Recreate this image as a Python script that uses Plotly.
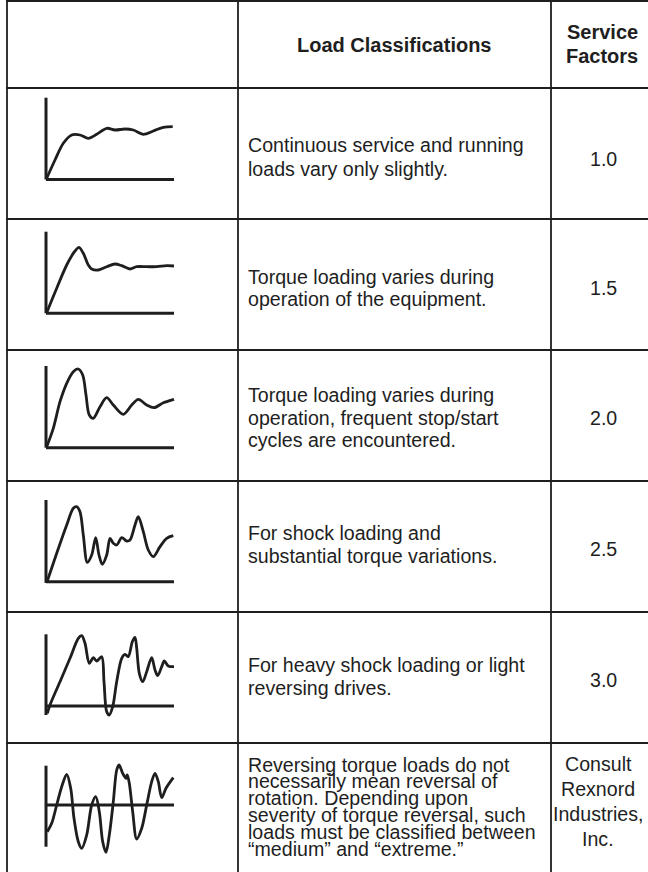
import plotly.graph_objects as go

W, H = 648, 872

# ---------------- data ----------------
header_classification = "Load Classifications"
header_factor = ["Service", "Factors"]

classifications = [
    ["Continuous service and running", "loads vary only slightly."],
    ["Torque loading varies during", "operation of the equipment."],
    ["Torque loading varies during", "operation, frequent stop/start", "cycles are encountered."],
    ["For shock loading and", "substantial torque variations."],
    ["For heavy shock loading or light", "reversing drives."],
    ["Reversing torque loads do not", "necessarily mean reversal of",
     "rotation. Depending upon", "severity of torque reversal, such",
     "loads must be classified between", "\u201cmedium\u201d and \u201cextreme.\u201d"],
]

service_factors = [["1.0"], ["1.5"], ["2.0"], ["2.5"], ["3.0"],
                   ["Consult", "Rexnord", "Industries,", "Inc."]]

# load sketches: time (t) vs load
t1 = [0.7, 9, 17.3, 25.7, 34, 42.3, 50.7, 60.7, 69, 79, 87.3, 97.3, 107.3, 117.3, 126.7]
load1 = [1.2, 19.5, 36.2, 44.5, 44.5, 41.2, 45.2, 51.2, 49.5, 50.5, 49.5, 45.2, 48.5, 52.2, 52.8]

t2 = [0.7, 10.7, 20.7, 29, 33, 37.3, 42.3, 45.7, 52.3, 60.7, 69, 75.7, 84, 90.7, 100.7, 110.7, 120.7, 128]
load2 = [0.6, 25, 48.3, 62.3, 66, 60, 48.3, 44.3, 43.3, 46.6, 49.3, 47.6, 44.3, 46.6, 46.6, 46.6, 47.6, 47.3]

t3 = [0.7, 7.3, 14, 20.7, 27.3, 32.3, 36.7, 40, 43.3, 47.3, 54, 60.7, 67.3, 77.3, 85.7, 92.3, 100.7, 108, 117.3, 128]
load3 = [1, 19.4, 46, 64.4, 76, 78.7, 72.7, 52.7, 32.7, 29.4, 41, 50, 42.7, 33.4, 42.7, 48.4, 42.7, 40, 45, 48.4]

t4 = [1.3, 10.7, 20.7, 27.3, 30.7, 34, 37.3, 41.3, 45.7, 49.7, 53, 56.3, 60.7, 64, 67.3, 70.7,
      75.7, 80.7, 84, 89, 92.3, 97.3, 102.3, 107.3, 114, 120.7, 127.3]
load4 = [0.7, 28.4, 56.7, 73.4, 75, 70, 46.7, 19.4, 26.7, 44, 26.7, 17.4, 26.7, 43.4, 38.4, 36.7,
         44, 40.7, 41.7, 56.7, 65, 50, 31.7, 25, 35, 43.4, 46]

t5 = [1.3, 4, 14, 24, 32.3, 35.7, 39, 43.3, 47.3, 50.7, 55.7, 58, 60.7, 63.3, 66.7, 70.7, 75.7,
      79, 82.3, 86.3, 89, 90.7, 93.3, 96.7, 100.7, 105.7, 109, 111.7, 115.7, 118.3, 122.3, 128]
load5 = [-7.3, 1, 24.3, 47.7, 67.7, 70.3, 62.7, 42.7, 48.3, 45, 49.3, 24.3, -5.7, -9, -0.7, 24.3, 47.7,
         51.7, 49.3, 64.3, 68.7, 57.7, 32.7, 24.3, 34.3, 48.3, 36, 30.3, 39.3, 45, 40, 39.3]

t6 = [1.3, 5.7, 10.7, 15.7, 20.7, 24.7, 28, 32.3, 35.7, 40.7, 45.7, 49.7, 53.3, 56.7, 60, 63.3,
      67.3, 70.7, 73, 76.7, 80, 81.3, 83.3, 86.7, 90.7, 95.7, 100.7, 105.7, 109, 112.3, 115.7, 120, 127.3]
load6 = [-26.7, -18.3, 0, 18.3, 30.7, 16.7, -13.3, -36.7, -43.3, -30, 0, 8.3, -6.7, -36.7, -47.3, -30,
         3.3, 35, 40, 31.7, 26.7, 30, 21.7, -6.7, -34, -23.3, 0, 23.3, 31.7, 23.3, 7.3, 16.7, 27.3]

curves_t = [t1, t2, t3, t4, t5, t6]
curves_load = [load1, load2, load3, load4, load5, load6]

# ---------------- layout geometry (pixels) ----------------
row_lines_y = [1, 88, 219, 350, 481, 612, 743]
col_lines_x = [7, 238, 551]
row_tops = row_lines_y[1:]
sketch_origin_y = [179.5, 313.3, 447.7, 581.7, 706, 805]
sketch_axis_top = [81.8, 81.6, 81.7, 81.7, 71.7, 39.3]
sketch_axis_bottom = [0, 0, 0, -1.2, -9, -41.7]
sketch_axis_len = 128
origin_x = 46

text_x = 246
text_centers = [
    [143.5, 166.5],
    [274.5, 297.5],
    [392.5, 415.5, 438.5],
    [531, 554],
    [663, 686],
    [762.5, 779.3, 796.1, 812.9, 829.7, 846.5],
]
factor_x = [603, 603, 603, 603, 603, 598]
factor_centers = [[157], [286], [416], [547], [678], [762, 787, 812, 837]]

INK = "#1e1e1e"
FONT = "Liberation Sans, Arial, Helvetica, sans-serif"


def px(x):
    return x / W


def py(y):
    return 1 - y / H


fig = go.Figure()
shapes = []
annotations = []
layout_axes = {}

for i in range(6):
    n = i + 1
    xa = "x" if n == 1 else f"x{n}"
    ya = "y" if n == 1 else f"y{n}"
    top = row_tops[i]
    d_top, d_bot = top + 4, top + 128
    oy = sketch_origin_y[i]
    x0p, x1p = 38, 184
    layout_axes["xaxis" if n == 1 else f"xaxis{n}"] = dict(
        domain=[px(x0p), px(x1p)], range=[x0p - origin_x, x1p - origin_x],
        visible=False, anchor=ya, fixedrange=True)
    layout_axes["yaxis" if n == 1 else f"yaxis{n}"] = dict(
        domain=[py(d_bot), py(d_top)], range=[oy - d_bot, oy - d_top],
        visible=False, anchor=xa, fixedrange=True)
    # sketch axes
    shapes.append(dict(type="line", xref=xa, yref=ya, x0=0, x1=0,
                       y0=sketch_axis_bottom[i], y1=sketch_axis_top[i],
                       line=dict(color=INK, width=3)))
    shapes.append(dict(type="line", xref=xa, yref=ya, x0=0, x1=sketch_axis_len,
                       y0=0, y1=0, line=dict(color=INK, width=3)))
    fig.add_trace(go.Scatter(
        x=curves_t[i], y=curves_load[i], mode="lines",
        line=dict(color=INK, width=2.8, shape="spline", smoothing=0.9),
        xaxis=xa, yaxis=ya, hoverinfo="skip", showlegend=False))

# table lines
for y in row_lines_y:
    shapes.append(dict(type="line", xref="paper", yref="paper",
                       x0=px(col_lines_x[0] - 1), x1=px(W + 10), y0=py(y), y1=py(y),
                       line=dict(color=INK, width=1.8)))
for x in col_lines_x:
    shapes.append(dict(type="line", xref="paper", yref="paper",
                       x0=px(x), x1=px(x), y0=py(row_lines_y[0]), y1=py(H + 10),
                       line=dict(color=INK, width=1.8)))

# header
annotations.append(dict(text="<b>" + header_classification + "</b>", x=px(394.5), y=py(45),
                        xref="paper", yref="paper", xanchor="center", yanchor="middle",
                        showarrow=False, font=dict(family=FONT, size=20, color=INK)))
for j, line in enumerate(header_factor):
    annotations.append(dict(text="<b>" + line + "</b>", x=px(602), y=py([32.5, 56][j]),
                            xref="paper", yref="paper", xanchor="center", yanchor="middle",
                            showarrow=False, font=dict(family=FONT, size=20, color=INK)))

# body text
for i in range(6):
    for line, yc in zip(classifications[i], text_centers[i]):
        annotations.append(dict(text=line, x=px(text_x), y=py(yc + 2),
                                xref="paper", yref="paper", xanchor="left", yanchor="middle",
                                showarrow=False, font=dict(family=FONT, size=19.6, color=INK)))
    for line, yc in zip(service_factors[i], factor_centers[i]):
        annotations.append(dict(text=line, x=px(factor_x[i]), y=py(yc + 2),
                                xref="paper", yref="paper", xanchor="center", yanchor="middle",
                                showarrow=False, font=dict(family=FONT, size=19.6, color=INK)))

fig.update_layout(
    width=W, height=H,
    margin=dict(l=0, r=0, t=0, b=0),
    paper_bgcolor="white", plot_bgcolor="rgba(0,0,0,0)",
    shapes=shapes, annotations=annotations, showlegend=False,
    **layout_axes,
)

fig.write_html("out.html", config={"displayModeBar": False},
               post_script="document.body.style.margin='0';document.body.style.overflow='hidden';")
